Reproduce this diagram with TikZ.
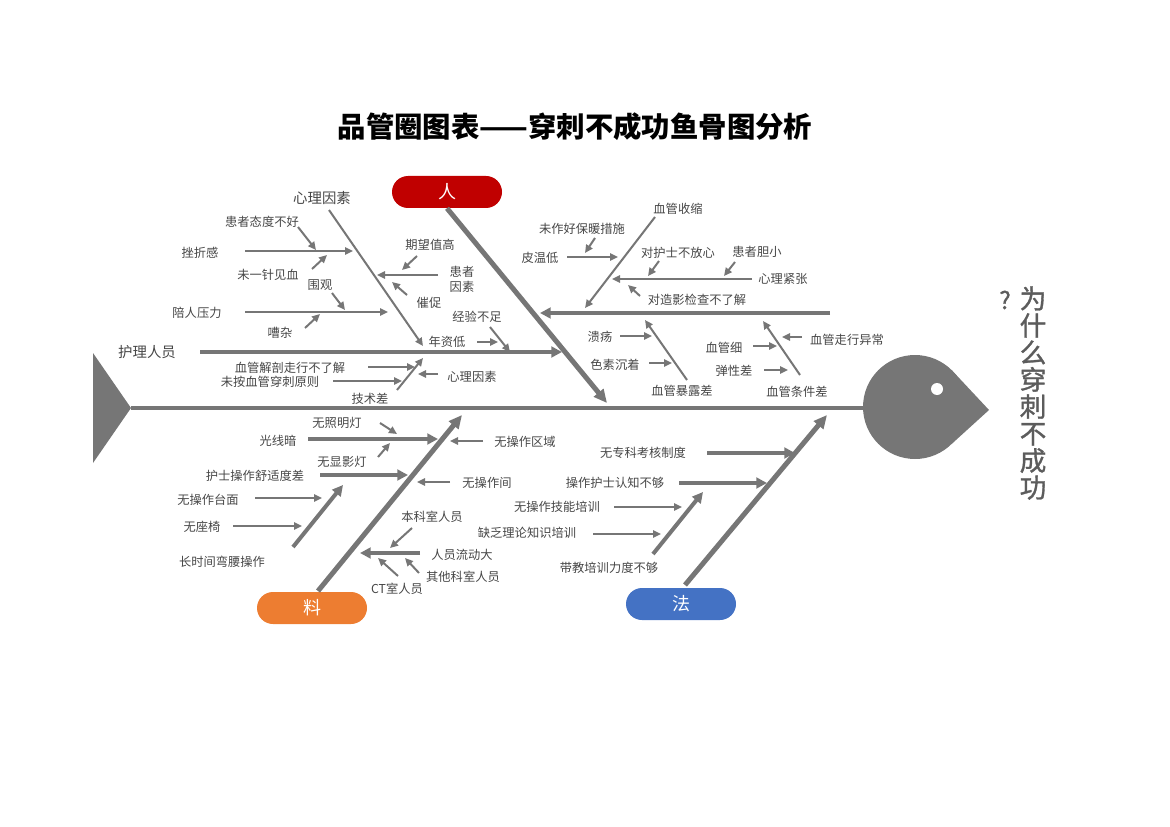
\documentclass[tikz,border=0pt]{standalone}
\usepackage{fontspec}
\usepackage{tikz}
\usetikzlibrary{arrows.meta,positioning}
\newfontfamily\cjk{Noto Sans CJK SC}
\newfontfamily\cjkmed[FakeBold=1.2]{Noto Sans CJK SC}
\definecolor{bonegray}{RGB}{118,118,118}
\definecolor{txtgray}{RGB}{70,70,70}
\definecolor{qgray}{RGB}{92,92,92}
\definecolor{renred}{RGB}{192,0,0}
\definecolor{liaoorange}{RGB}{237,125,49}
\definecolor{fablue}{RGB}{68,114,196}

\begin{document}
\begin{tikzpicture}[x=0.75pt,y=-0.75pt]
    \tikzstyle{lbl}=[font=\cjk\fontsize{9.2}{11.5}\selectfont,text=txtgray,inner sep=0pt,align=center] %
    \tikzstyle{sublbl}=[lbl,font=\cjk\fontsize{10.8}{13}\selectfont] %
    \tikzstyle{pill}=[rectangle,rounded corners=12pt,minimum width=82.5pt,%
    minimum height=24pt,text=white,font=\cjk\fontsize{13.5}{16}\selectfont] %
    \tikzstyle{thinarr}=[draw=bonegray,line width=1.5pt,-{Triangle[length=6pt,width=5.5pt]}] %
    \tikzstyle{thickarr}=[draw=bonegray,line width=3pt,-{Triangle[length=8pt,width=8pt]}] %
    \tikzstyle{bone}=[draw=bonegray,line width=3.75pt,-{Triangle[length=10pt,width=9pt]}] %
    \tikzstyle{spine}=[draw=bonegray,line width=3pt] %

    \useasboundingbox (0,0) rectangle (1170,827);

    \node[font=\cjk\bfseries\fontsize{21.3}{24}\selectfont] (ttl) at (575,127)
        {品管圈图表——穿刺不成功鱼骨图分析};

    % tail, spine, head
    \coordinate (tail) at (131,408);
    \coordinate (neck) at (866,408);
    \fill[bonegray] (93,353) -- (tail) -- (93,463) -- cycle;
    \draw[spine] (tail) -- (neck);
    \fill[bonegray] (915,407) circle (52);
    \fill[bonegray] (951.6,370) -- (989,410) -- (951.6,444) -- cycle;
    \fill[white] (937,389) circle (6);

    \node[font=\cjkmed\fontsize{18}{20}\selectfont,text=qgray] (qm) at (1005,300) {?};
    \node[font=\cjkmed\fontsize{20}{20.25}\selectfont,text=qgray,align=center] (why)
        at (1033,393) {为\\什\\么\\穿\\刺\\不\\成\\功};

    % categories
    \node[pill,fill=renred] (ren) at (447,192) {人};
    \node[pill,fill=liaoorange] (liao) at (312,608) {料};
    \node[pill,fill=fablue] (fa) at (681,604) {法};

    \coordinate (renend) at (607,403);
    \coordinate (liao0) at (318,591);
    \coordinate (liaoend) at (462,415);
    \coordinate (fa0) at (685,585);
    \coordinate (faend) at (827,415);
    \draw[bone] (ren.south) -- (renend);
    \draw[bone] (liao0) -- (liaoend);
    \draw[bone] (fa0) -- (faend);

    % ren: left part
    \node[sublbl] (hlry) at (147,352) {护理人员};
    \coordinate (hlry0) at (200,352); \coordinate (hlry1) at (562,352);
    \node[sublbl] (xlys) at (322,198) {心理因素};
    \coordinate (xlys0) at (329,210); \coordinate (xlys1) at (423,346);
    \node[lbl] (tdbh) at (262,222) {患者态度不好};
    \coordinate (tdbh0) at (298,227); \coordinate (tdbh1) at (316,250);
    \node[lbl] (czg) at (200,253) {挫折感};
    \coordinate (czg0) at (245,251); \coordinate (czg1) at (353,251);
    \node[lbl] (wyzj) at (268,275) {未一针见血};
    \coordinate (wyzj0) at (312,269); \coordinate (wyzj1) at (327,255);
    \node[lbl] (qwzg) at (430,245) {期望值高};
    \coordinate (qwzg0) at (417,256); \coordinate (qwzg1) at (402,270);
    \node[lbl] (hzys) at (462,279) {患者\\因素};
    \coordinate (hzys0) at (438,275); \coordinate (hzys1) at (377,275);
    \node[lbl] (cc) at (429,303) {催促};
    \coordinate (cc0) at (407,295); \coordinate (cc1) at (392,282);
    \node[lbl] (wg) at (320,285) {围观};
    \coordinate (wg0) at (332,293); \coordinate (wg1) at (345,310);
    \node[lbl] (pryl) at (197,313) {陪人压力};
    \coordinate (pryl0) at (245,312); \coordinate (pryl1) at (388,312);
    \node[lbl] (cz) at (280,333) {嘈杂};
    \coordinate (cz0) at (305,328); \coordinate (cz1) at (320,314);
    \node[lbl] (jybz) at (477,317) {经验不足};
    \coordinate (jybz0) at (490,327); \coordinate (jybz1) at (510,352);
    \node[lbl] (nzd) at (447,342) {年资低};
    \coordinate (nzd0) at (477,342); \coordinate (nzd1) at (498,342);
    \node[lbl] (jpzx) at (290,368) {血管解剖走行不了解};
    \coordinate (jpzx0) at (368,367); \coordinate (jpzx1) at (415,367);
    \node[lbl] (wayz) at (270,382) {未按血管穿刺原则};
    \coordinate (wayz0) at (333,381); \coordinate (wayz1) at (402,381);
    \node[lbl] (jsc) at (370,399) {技术差};
    \coordinate (jsc0) at (397,390); \coordinate (jsc1) at (423,358);
    \node[lbl] (xlys2) at (472,377) {心理因素};
    \coordinate (xlys20) at (438,374); \coordinate (xlys21) at (418,374);

    \draw[thickarr] (hlry0) -- (hlry1);
    \draw[thinarr] (xlys0) -- (xlys1);
    \draw[thinarr] (tdbh0) -- (tdbh1);
    \draw[thinarr] (czg0) -- (czg1);
    \draw[thinarr] (wyzj0) -- (wyzj1);
    \draw[thinarr] (qwzg0) -- (qwzg1);
    \draw[thinarr] (hzys0) -- (hzys1);
    \draw[thinarr] (cc0) -- (cc1);
    \draw[thinarr] (wg0) -- (wg1);
    \draw[thinarr] (pryl0) -- (pryl1);
    \draw[thinarr] (cz0) -- (cz1);
    \draw[thinarr] (jybz0) -- (jybz1);
    \draw[thinarr] (nzd0) -- (nzd1);
    \draw[thinarr] (jpzx0) -- (jpzx1);
    \draw[thinarr] (wayz0) -- (wayz1);
    \draw[thinarr] (jsc0) -- (jsc1);
    \draw[thinarr] (xlys20) -- (xlys21);

    % ren: right part
    \coordinate (xg0) at (830,313); \coordinate (xg1) at (540,313);
    \node[lbl] (xgss) at (678,209) {血管收缩};
    \coordinate (xgss0) at (655,217); \coordinate (xgss1) at (585,308);
    \node[lbl] (bnzs) at (582,229) {未作好保暖措施};
    \coordinate (bnzs0) at (595,238); \coordinate (bnzs1) at (585,253);
    \node[lbl] (pwd) at (540,258) {皮温低};
    \coordinate (pwd0) at (567,257); \coordinate (pwd1) at (618,257);
    \node[lbl] (bfx) at (678,253) {对护士不放心};
    \coordinate (bfx0) at (659,261); \coordinate (bfx1) at (648,276);
    \node[lbl] (hzdx) at (757,252) {患者胆小};
    \coordinate (hzdx0) at (735,262); \coordinate (hzdx1) at (724,276);
    \node[lbl] (xljz) at (783,279) {心理紧张};
    \coordinate (xljz0) at (752,279); \coordinate (xljz1) at (612,279);
    \node[lbl] (zybl) at (697,300) {对造影检查不了解};
    \coordinate (zybl0) at (640,296); \coordinate (zybl1) at (628,285);
    \node[lbl] (ky) at (600,337) {溃疡};
    \coordinate (ky0) at (620,336); \coordinate (ky1) at (652,336);
    \node[lbl] (sscz) at (615,365) {色素沉着};
    \coordinate (sscz0) at (649,363); \coordinate (sscz1) at (672,363);
    \node[lbl] (blc) at (682,391) {血管暴露差};
    \coordinate (blc0) at (687,380); \coordinate (blc1) at (645,320);
    \node[lbl] (xgx) at (724,348) {血管细};
    \coordinate (xgx0) at (753,346); \coordinate (xgx1) at (777,346);
    \node[lbl] (txc) at (734,371) {弹性差};
    \coordinate (txc0) at (764,370); \coordinate (txc1) at (788,370);
    \node[lbl] (zxyc) at (847,340) {血管走行异常};
    \coordinate (zxyc0) at (802,337); \coordinate (zxyc1) at (782,337);
    \node[lbl] (tjc) at (797,392) {血管条件差};
    \coordinate (tjc0) at (800,375); \coordinate (tjc1) at (763,321);

    \draw[thickarr] (xg0) -- (xg1);
    \draw[thinarr] (xgss0) -- (xgss1);
    \draw[thinarr] (bnzs0) -- (bnzs1);
    \draw[thinarr] (pwd0) -- (pwd1);
    \draw[thinarr] (bfx0) -- (bfx1);
    \draw[thinarr] (hzdx0) -- (hzdx1);
    \draw[thinarr] (xljz0) -- (xljz1);
    \draw[thinarr] (zybl0) -- (zybl1);
    \draw[thinarr] (ky0) -- (ky1);
    \draw[thinarr] (sscz0) -- (sscz1);
    \draw[thinarr] (blc0) -- (blc1);
    \draw[thinarr] (xgx0) -- (xgx1);
    \draw[thinarr] (txc0) -- (txc1);
    \draw[thinarr] (zxyc0) -- (zxyc1);
    \draw[thinarr] (tjc0) -- (tjc1);

    % liao
    \node[lbl] (zmd) at (337,423) {无照明灯};
    \coordinate (zmd0) at (380,423); \coordinate (zmd1) at (397,434);
    \node[lbl] (gxa) at (278,441) {光线暗};
    \coordinate (gxa0) at (308,439); \coordinate (gxa1) at (438,439);
    \node[lbl] (czqy) at (525,442) {无操作区域};
    \coordinate (czqy0) at (483,441); \coordinate (czqy1) at (450,441);
    \node[lbl] (xyd) at (342,462) {无显影灯};
    \coordinate (xyd0) at (378,457); \coordinate (xyd1) at (390,443);
    \node[lbl] (ssdc) at (255,476) {护士操作舒适度差};
    \coordinate (ssdc0) at (320,475); \coordinate (ssdc1) at (408,475);
    \node[lbl] (czj) at (487,483) {无操作间};
    \coordinate (czj0) at (450,482); \coordinate (czj1) at (417,482);
    \node[lbl] (cztm) at (208,500) {无操作台面};
    \coordinate (cztm0) at (255,498); \coordinate (cztm1) at (322,498);
    \node[lbl] (zy) at (202,527) {无座椅};
    \coordinate (zy0) at (233,526); \coordinate (zy1) at (302,526);
    \node[lbl] (wycz) at (222,562) {长时间弯腰操作};
    \coordinate (wycz0) at (293,547); \coordinate (wycz1) at (343,485);
    \node[lbl] (bksr) at (432,517) {本科室人员};
    \coordinate (bksr0) at (412,528); \coordinate (bksr1) at (390,548);
    \node[lbl] (rlld) at (462,555) {人员流动大};
    \coordinate (rlld0) at (420,553); \coordinate (rlld1) at (360,553);
    \node[lbl] (qtks) at (463,577) {其他科室人员};
    \coordinate (qtks0) at (419,573); \coordinate (qtks1) at (405,558);
    \node[lbl] (ctry) at (397,589) {CT室人员};
    \coordinate (ctry0) at (398,576); \coordinate (ctry1) at (378,558);

    \draw[thinarr] (zmd0) -- (zmd1);
    \draw[thickarr] (gxa0) -- (gxa1);
    \draw[thinarr] (czqy0) -- (czqy1);
    \draw[thinarr] (xyd0) -- (xyd1);
    \draw[thickarr] (ssdc0) -- (ssdc1);
    \draw[thinarr] (czj0) -- (czj1);
    \draw[thinarr] (cztm0) -- (cztm1);
    \draw[thinarr] (zy0) -- (zy1);
    \draw[thickarr] (wycz0) -- (wycz1);
    \draw[thinarr] (bksr0) -- (bksr1);
    \draw[thickarr] (rlld0) -- (rlld1);
    \draw[thinarr] (qtks0) -- (qtks1);
    \draw[thinarr] (ctry0) -- (ctry1);

    % fa
    \node[lbl] (khzd) at (643,453) {无专科考核制度};
    \coordinate (khzd0) at (707,453); \coordinate (khzd1) at (795,453);
    \node[lbl] (rzbg) at (615,483) {操作护士认知不够};
    \coordinate (rzbg0) at (679,483); \coordinate (rzbg1) at (767,483);
    \node[lbl] (jnpx) at (557,507) {无操作技能培训};
    \coordinate (jnpx0) at (614,507); \coordinate (jnpx1) at (682,507);
    \node[lbl] (llpx) at (527,533) {缺乏理论知识培训};
    \coordinate (llpx0) at (593,534); \coordinate (llpx1) at (661,534);
    \node[lbl] (djpx) at (609,568) {带教培训力度不够};
    \coordinate (djpx0) at (653,554); \coordinate (djpx1) at (703,492);

    \draw[thickarr] (khzd0) -- (khzd1);
    \draw[thickarr] (rzbg0) -- (rzbg1);
    \draw[thinarr] (jnpx0) -- (jnpx1);
    \draw[thinarr] (llpx0) -- (llpx1);
    \draw[thickarr] (djpx0) -- (djpx1);
\end{tikzpicture}
\end{document}
